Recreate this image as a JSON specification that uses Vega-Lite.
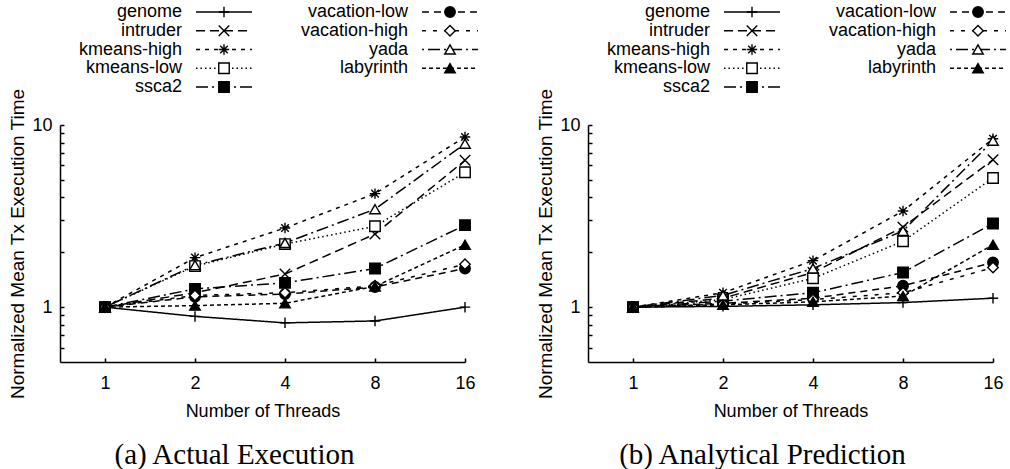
{
  "$schema": "https://vega.github.io/schema/vega-lite/v6.json",
  "padding": {"left": 8, "top": 3, "right": 0, "bottom": 0},
  "background": "white",
  "bounds": "flush",
  "spacing": 123,
  "datasets": {
    "perf": [
      {"panel": "a", "series": "genome", "threads": 1, "time": 1},
      {"panel": "a", "series": "genome", "threads": 2, "time": 0.89},
      {"panel": "a", "series": "genome", "threads": 4, "time": 0.82},
      {"panel": "a", "series": "genome", "threads": 8, "time": 0.84},
      {"panel": "a", "series": "genome", "threads": 16, "time": 1.0},
      {"panel": "a", "series": "intruder", "threads": 1, "time": 1},
      {"panel": "a", "series": "intruder", "threads": 2, "time": 1.2},
      {"panel": "a", "series": "intruder", "threads": 4, "time": 1.52},
      {"panel": "a", "series": "intruder", "threads": 8, "time": 2.52},
      {"panel": "a", "series": "intruder", "threads": 16, "time": 6.4},
      {"panel": "a", "series": "kmeans-high", "threads": 1, "time": 1},
      {"panel": "a", "series": "kmeans-high", "threads": 2, "time": 1.87},
      {"panel": "a", "series": "kmeans-high", "threads": 4, "time": 2.72},
      {"panel": "a", "series": "kmeans-high", "threads": 8, "time": 4.2},
      {"panel": "a", "series": "kmeans-high", "threads": 16, "time": 8.6},
      {"panel": "a", "series": "kmeans-low", "threads": 1, "time": 1},
      {"panel": "a", "series": "kmeans-low", "threads": 2, "time": 1.68},
      {"panel": "a", "series": "kmeans-low", "threads": 4, "time": 2.22},
      {"panel": "a", "series": "kmeans-low", "threads": 8, "time": 2.78},
      {"panel": "a", "series": "kmeans-low", "threads": 16, "time": 5.5},
      {"panel": "a", "series": "ssca2", "threads": 1, "time": 1},
      {"panel": "a", "series": "ssca2", "threads": 2, "time": 1.26},
      {"panel": "a", "series": "ssca2", "threads": 4, "time": 1.36},
      {"panel": "a", "series": "ssca2", "threads": 8, "time": 1.63},
      {"panel": "a", "series": "ssca2", "threads": 16, "time": 2.82},
      {"panel": "a", "series": "vacation-low", "threads": 1, "time": 1},
      {"panel": "a", "series": "vacation-low", "threads": 2, "time": 1.14},
      {"panel": "a", "series": "vacation-low", "threads": 4, "time": 1.18},
      {"panel": "a", "series": "vacation-low", "threads": 8, "time": 1.29},
      {"panel": "a", "series": "vacation-low", "threads": 16, "time": 1.63},
      {"panel": "a", "series": "vacation-high", "threads": 1, "time": 1},
      {"panel": "a", "series": "vacation-high", "threads": 2, "time": 1.16},
      {"panel": "a", "series": "vacation-high", "threads": 4, "time": 1.2},
      {"panel": "a", "series": "vacation-high", "threads": 8, "time": 1.31},
      {"panel": "a", "series": "vacation-high", "threads": 16, "time": 1.72},
      {"panel": "a", "series": "yada", "threads": 1, "time": 1},
      {"panel": "a", "series": "yada", "threads": 2, "time": 1.7},
      {"panel": "a", "series": "yada", "threads": 4, "time": 2.25},
      {"panel": "a", "series": "yada", "threads": 8, "time": 3.45},
      {"panel": "a", "series": "yada", "threads": 16, "time": 7.9},
      {"panel": "a", "series": "labyrinth", "threads": 1, "time": 1},
      {"panel": "a", "series": "labyrinth", "threads": 2, "time": 1.02},
      {"panel": "a", "series": "labyrinth", "threads": 4, "time": 1.05},
      {"panel": "a", "series": "labyrinth", "threads": 8, "time": 1.3},
      {"panel": "a", "series": "labyrinth", "threads": 16, "time": 2.2},
      {"panel": "b", "series": "genome", "threads": 1, "time": 1},
      {"panel": "b", "series": "genome", "threads": 2, "time": 1.01},
      {"panel": "b", "series": "genome", "threads": 4, "time": 1.03},
      {"panel": "b", "series": "genome", "threads": 8, "time": 1.06},
      {"panel": "b", "series": "genome", "threads": 16, "time": 1.12},
      {"panel": "b", "series": "intruder", "threads": 1, "time": 1},
      {"panel": "b", "series": "intruder", "threads": 2, "time": 1.12},
      {"panel": "b", "series": "intruder", "threads": 4, "time": 1.55},
      {"panel": "b", "series": "intruder", "threads": 8, "time": 2.75},
      {"panel": "b", "series": "intruder", "threads": 16, "time": 6.44},
      {"panel": "b", "series": "kmeans-high", "threads": 1, "time": 1},
      {"panel": "b", "series": "kmeans-high", "threads": 2, "time": 1.2},
      {"panel": "b", "series": "kmeans-high", "threads": 4, "time": 1.8},
      {"panel": "b", "series": "kmeans-high", "threads": 8, "time": 3.37},
      {"panel": "b", "series": "kmeans-high", "threads": 16, "time": 8.4},
      {"panel": "b", "series": "kmeans-low", "threads": 1, "time": 1},
      {"panel": "b", "series": "kmeans-low", "threads": 2, "time": 1.1},
      {"panel": "b", "series": "kmeans-low", "threads": 4, "time": 1.44},
      {"panel": "b", "series": "kmeans-low", "threads": 8, "time": 2.3},
      {"panel": "b", "series": "kmeans-low", "threads": 16, "time": 5.12},
      {"panel": "b", "series": "ssca2", "threads": 1, "time": 1},
      {"panel": "b", "series": "ssca2", "threads": 2, "time": 1.08},
      {"panel": "b", "series": "ssca2", "threads": 4, "time": 1.2},
      {"panel": "b", "series": "ssca2", "threads": 8, "time": 1.55},
      {"panel": "b", "series": "ssca2", "threads": 16, "time": 2.88},
      {"panel": "b", "series": "vacation-low", "threads": 1, "time": 1},
      {"panel": "b", "series": "vacation-low", "threads": 2, "time": 1.05},
      {"panel": "b", "series": "vacation-low", "threads": 4, "time": 1.12},
      {"panel": "b", "series": "vacation-low", "threads": 8, "time": 1.31},
      {"panel": "b", "series": "vacation-low", "threads": 16, "time": 1.76},
      {"panel": "b", "series": "vacation-high", "threads": 1, "time": 1},
      {"panel": "b", "series": "vacation-high", "threads": 2, "time": 1.04},
      {"panel": "b", "series": "vacation-high", "threads": 4, "time": 1.1},
      {"panel": "b", "series": "vacation-high", "threads": 8, "time": 1.2},
      {"panel": "b", "series": "vacation-high", "threads": 16, "time": 1.65},
      {"panel": "b", "series": "yada", "threads": 1, "time": 1},
      {"panel": "b", "series": "yada", "threads": 2, "time": 1.16},
      {"panel": "b", "series": "yada", "threads": 4, "time": 1.63},
      {"panel": "b", "series": "yada", "threads": 8, "time": 2.62},
      {"panel": "b", "series": "yada", "threads": 16, "time": 8.2},
      {"panel": "b", "series": "labyrinth", "threads": 1, "time": 1},
      {"panel": "b", "series": "labyrinth", "threads": 2, "time": 1.03},
      {"panel": "b", "series": "labyrinth", "threads": 4, "time": 1.07},
      {"panel": "b", "series": "labyrinth", "threads": 8, "time": 1.15},
      {"panel": "b", "series": "labyrinth", "threads": 16, "time": 2.2}
    ],
    "legend": [
      {"series": "genome", "col": 0, "row": 0},
      {"series": "intruder", "col": 0, "row": 1},
      {"series": "kmeans-high", "col": 0, "row": 2},
      {"series": "kmeans-low", "col": 0, "row": 3},
      {"series": "ssca2", "col": 0, "row": 4},
      {"series": "vacation-low", "col": 1, "row": 0},
      {"series": "vacation-high", "col": 1, "row": 1},
      {"series": "yada", "col": 1, "row": 2},
      {"series": "labyrinth", "col": 1, "row": 3}
    ]
  },
  "config": {
    "view": {"stroke": null},
    "font": "Liberation Sans",
    "axis": {
      "domainColor": "black", "domainWidth": 1.5,
      "tickColor": "black", "tickWidth": 1.5, "tickSize": -4,
      "labelColor": "black", "titleColor": "black",
      "labelFont": "Liberation Sans", "titleFont": "Liberation Sans",
      "labelFontSize": 18, "titleFontSize": 18, "titleFontWeight": "normal",
      "grid": false, "labelFlush": false, "labelOverlap": false
    },
    "title": {"font": "Liberation Serif", "fontSize": 29, "fontWeight": "normal", "color": "black", "orient": "bottom", "offset": 21, "dx": -28}
  },
  "hconcat": [
    {
      "width": 405, "height": 237,
      "title": {"text": "(a) Actual Execution"},
      "layer": [
        {
          "data": {"name": "perf"},
          "transform": [{"filter": "datum.panel == 'a'"}],
          "encoding": {
            "x": {"field": "threads", "type": "quantitative",
                  "scale": {"type": "log", "base": 2, "domain": [0.7071, 16], "nice": false},
                  "axis": {"values": [1, 2, 4, 8, 16], "title": "Number of Threads", "labelPadding": 16, "titlePadding": 10}},
            "y": {"field": "time", "type": "quantitative",
                  "scale": {"type": "log", "domain": [0.5, 10], "nice": false},
                  "axis": {"values": [0.6, 0.7, 0.8, 0.9, 1, 2, 3, 4, 5, 6, 7, 8, 9, 10],
                           "labelExpr": "datum.value == 1 ? '1' : (datum.value == 10 ? '10' : '')",
                           "title": "Normalized Mean Tx Execution Time", "titleFontSize": 19, "labelPadding": 12, "titlePadding": 4}}
          },
          "layer": [
            {
              "mark": {"type": "line", "stroke": "black", "strokeWidth": 1.5},
              "encoding": {
                "detail": {"field": "series"},
                "strokeDash": {"field": "series", "type": "nominal", "legend": null,
                  "scale": {"domain": ["genome", "intruder", "kmeans-high", "kmeans-low", "ssca2", "vacation-low", "vacation-high", "yada", "labyrinth"],
                            "range": [[1, 0], [9, 5], [4, 5], [1.5, 3], [12, 4, 2, 4], [7, 5], [4, 7], [2, 4, 12, 4], [4, 3]]}}
              }
            },
            {
              "mark": {"type": "point", "stroke": "black", "strokeWidth": 1.4, "opacity": 1, "size": 110},
              "encoding": {
                "shape": {"field": "series", "type": "nominal", "legend": null,
                  "scale": {"domain": ["genome", "intruder", "kmeans-high", "kmeans-low", "ssca2", "vacation-low", "vacation-high", "yada", "labyrinth"],
                            "range": ["M-1,0L1,0M0,-1L0,1", "M-1,-1L1,1M-1,1L1,-1", "M-1,0L1,0M0,-1L0,1M-0.72,-0.72L0.72,0.72M-0.72,0.72L0.72,-0.72", "square", "square", "circle", "diamond", "triangle-up", "triangle-up"]}},
                "fill": {"field": "series", "type": "nominal", "legend": null,
                  "scale": {"domain": ["genome", "intruder", "kmeans-high", "kmeans-low", "ssca2", "vacation-low", "vacation-high", "yada", "labyrinth"],
                            "range": ["transparent", "transparent", "transparent", "white", "black", "black", "white", "white", "black"]}}
              }
            }
          ]
        },
        {
          "data": {"name": "legend"},
          "encoding": {
            "x": {"field": "col", "type": "quantitative", "scale": {"domain": [0, 1], "range": [122, 348], "nice": false, "zero": false}, "axis": null},
            "y": {"field": "row", "type": "quantitative", "scale": {"domain": [0, 4], "range": [-113, -38], "nice": false, "zero": false}, "axis": null}
          },
          "layer": [
            {
              "mark": {"type": "text", "align": "right", "baseline": "middle", "font": "Liberation Sans", "fontSize": 18, "color": "black"},
              "encoding": {"text": {"field": "series"}}
            },
            {
              "mark": {"type": "rule", "xOffset": 14, "x2Offset": 70, "stroke": "black", "strokeWidth": 1.5},
              "encoding": {
                "x2": {"field": "col"},
                "strokeDash": {"field": "series", "type": "nominal", "legend": null,
                  "scale": {"domain": ["genome", "intruder", "kmeans-high", "kmeans-low", "ssca2", "vacation-low", "vacation-high", "yada", "labyrinth"],
                            "range": [[1, 0], [9, 5], [4, 5], [1.5, 3], [12, 4, 2, 4], [7, 5], [4, 7], [2, 4, 12, 4], [4, 3]]}}
              }
            },
            {
              "mark": {"type": "point", "xOffset": 42, "stroke": "black", "strokeWidth": 1.4, "opacity": 1, "size": 110},
              "encoding": {
                "shape": {"field": "series", "type": "nominal", "legend": null,
                  "scale": {"domain": ["genome", "intruder", "kmeans-high", "kmeans-low", "ssca2", "vacation-low", "vacation-high", "yada", "labyrinth"],
                            "range": ["M-1,0L1,0M0,-1L0,1", "M-1,-1L1,1M-1,1L1,-1", "M-1,0L1,0M0,-1L0,1M-0.72,-0.72L0.72,0.72M-0.72,0.72L0.72,-0.72", "square", "square", "circle", "diamond", "triangle-up", "triangle-up"]}},
                "fill": {"field": "series", "type": "nominal", "legend": null,
                  "scale": {"domain": ["genome", "intruder", "kmeans-high", "kmeans-low", "ssca2", "vacation-low", "vacation-high", "yada", "labyrinth"],
                            "range": ["transparent", "transparent", "transparent", "white", "black", "black", "white", "white", "black"]}}
              }
            }
          ]
        }
      ],
      "resolve": {"scale": {"x": "independent", "y": "independent"}, "axis": {"x": "independent", "y": "independent"}}
    },
    {
      "width": 405, "height": 237,
      "title": {"text": "(b) Analytical Prediction"},
      "layer": [
        {
          "data": {"name": "perf"},
          "transform": [{"filter": "datum.panel == 'b'"}],
          "encoding": {
            "x": {"field": "threads", "type": "quantitative",
                  "scale": {"type": "log", "base": 2, "domain": [0.7071, 16], "nice": false},
                  "axis": {"values": [1, 2, 4, 8, 16], "title": "Number of Threads", "labelPadding": 16, "titlePadding": 10}},
            "y": {"field": "time", "type": "quantitative",
                  "scale": {"type": "log", "domain": [0.5, 10], "nice": false},
                  "axis": {"values": [0.6, 0.7, 0.8, 0.9, 1, 2, 3, 4, 5, 6, 7, 8, 9, 10],
                           "labelExpr": "datum.value == 1 ? '1' : (datum.value == 10 ? '10' : '')",
                           "title": "Normalized Mean Tx Execution Time", "titleFontSize": 19, "labelPadding": 12, "titlePadding": 4}}
          },
          "layer": [
            {
              "mark": {"type": "line", "stroke": "black", "strokeWidth": 1.5},
              "encoding": {
                "detail": {"field": "series"},
                "strokeDash": {"field": "series", "type": "nominal", "legend": null,
                  "scale": {"domain": ["genome", "intruder", "kmeans-high", "kmeans-low", "ssca2", "vacation-low", "vacation-high", "yada", "labyrinth"],
                            "range": [[1, 0], [9, 5], [4, 5], [1.5, 3], [12, 4, 2, 4], [7, 5], [4, 7], [2, 4, 12, 4], [4, 3]]}}
              }
            },
            {
              "mark": {"type": "point", "stroke": "black", "strokeWidth": 1.4, "opacity": 1, "size": 110},
              "encoding": {
                "shape": {"field": "series", "type": "nominal", "legend": null,
                  "scale": {"domain": ["genome", "intruder", "kmeans-high", "kmeans-low", "ssca2", "vacation-low", "vacation-high", "yada", "labyrinth"],
                            "range": ["M-1,0L1,0M0,-1L0,1", "M-1,-1L1,1M-1,1L1,-1", "M-1,0L1,0M0,-1L0,1M-0.72,-0.72L0.72,0.72M-0.72,0.72L0.72,-0.72", "square", "square", "circle", "diamond", "triangle-up", "triangle-up"]}},
                "fill": {"field": "series", "type": "nominal", "legend": null,
                  "scale": {"domain": ["genome", "intruder", "kmeans-high", "kmeans-low", "ssca2", "vacation-low", "vacation-high", "yada", "labyrinth"],
                            "range": ["transparent", "transparent", "transparent", "white", "black", "black", "white", "white", "black"]}}
              }
            }
          ]
        },
        {
          "data": {"name": "legend"},
          "encoding": {
            "x": {"field": "col", "type": "quantitative", "scale": {"domain": [0, 1], "range": [122, 348], "nice": false, "zero": false}, "axis": null},
            "y": {"field": "row", "type": "quantitative", "scale": {"domain": [0, 4], "range": [-113, -38], "nice": false, "zero": false}, "axis": null}
          },
          "layer": [
            {
              "mark": {"type": "text", "align": "right", "baseline": "middle", "font": "Liberation Sans", "fontSize": 18, "color": "black"},
              "encoding": {"text": {"field": "series"}}
            },
            {
              "mark": {"type": "rule", "xOffset": 14, "x2Offset": 70, "stroke": "black", "strokeWidth": 1.5},
              "encoding": {
                "x2": {"field": "col"},
                "strokeDash": {"field": "series", "type": "nominal", "legend": null,
                  "scale": {"domain": ["genome", "intruder", "kmeans-high", "kmeans-low", "ssca2", "vacation-low", "vacation-high", "yada", "labyrinth"],
                            "range": [[1, 0], [9, 5], [4, 5], [1.5, 3], [12, 4, 2, 4], [7, 5], [4, 7], [2, 4, 12, 4], [4, 3]]}}
              }
            },
            {
              "mark": {"type": "point", "xOffset": 42, "stroke": "black", "strokeWidth": 1.4, "opacity": 1, "size": 110},
              "encoding": {
                "shape": {"field": "series", "type": "nominal", "legend": null,
                  "scale": {"domain": ["genome", "intruder", "kmeans-high", "kmeans-low", "ssca2", "vacation-low", "vacation-high", "yada", "labyrinth"],
                            "range": ["M-1,0L1,0M0,-1L0,1", "M-1,-1L1,1M-1,1L1,-1", "M-1,0L1,0M0,-1L0,1M-0.72,-0.72L0.72,0.72M-0.72,0.72L0.72,-0.72", "square", "square", "circle", "diamond", "triangle-up", "triangle-up"]}},
                "fill": {"field": "series", "type": "nominal", "legend": null,
                  "scale": {"domain": ["genome", "intruder", "kmeans-high", "kmeans-low", "ssca2", "vacation-low", "vacation-high", "yada", "labyrinth"],
                            "range": ["transparent", "transparent", "transparent", "white", "black", "black", "white", "white", "black"]}}
              }
            }
          ]
        }
      ],
      "resolve": {"scale": {"x": "independent", "y": "independent"}, "axis": {"x": "independent", "y": "independent"}}
    }
  ]
}
